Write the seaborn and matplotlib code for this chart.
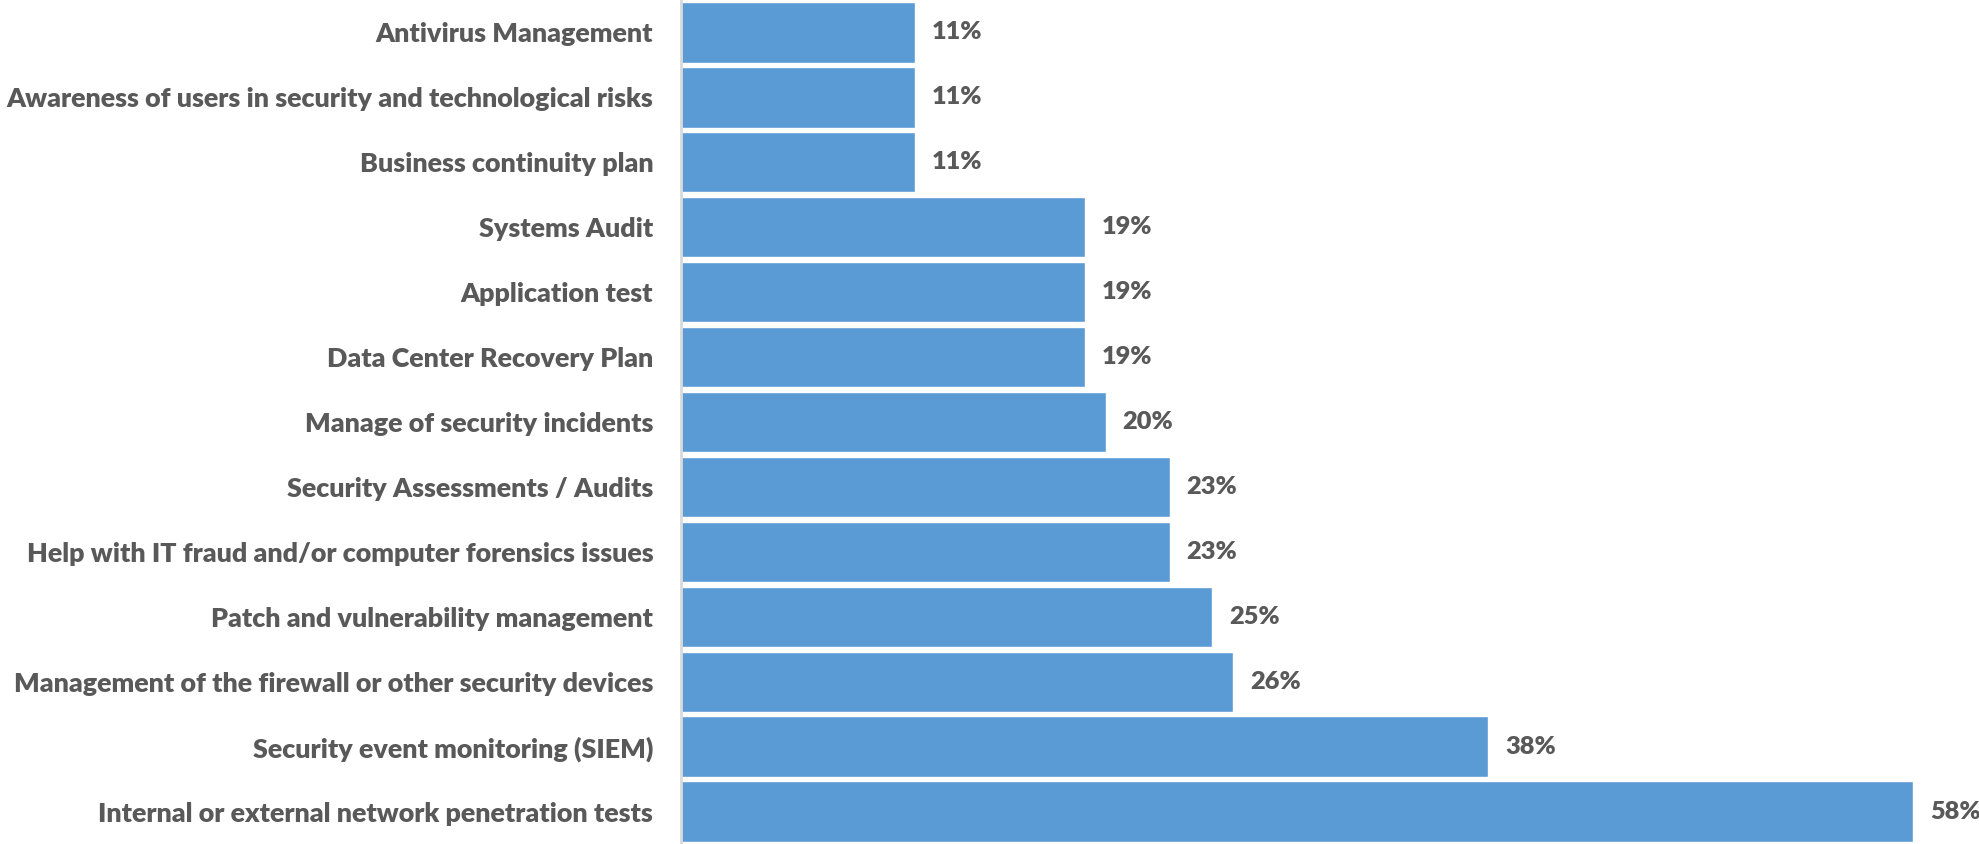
import matplotlib
matplotlib.use("Agg")
import matplotlib.pyplot as plt
import seaborn as sns
import pandas as pd

categories = [
    "Antivirus Management",
    "Awareness of users in security and technological risks",
    "Business continuity plan",
    "Systems Audit",
    "Application test",
    "Data Center Recovery Plan",
    "Manage of security incidents",
    "Security Assessments / Audits",
    "Help with IT fraud and/or computer forensics issues",
    "Patch and vulnerability management",
    "Management of the firewall or other security devices",
    "Security event monitoring (SIEM)",
    "Internal or external network penetration tests",
]
values = [11, 11, 11, 19, 19, 19, 20, 23, 23, 25, 26, 38, 58]

df = pd.DataFrame({"service": categories, "share": values})

sns.set_theme(style="white")
plt.rcParams["font.family"] = ["Lato", "DejaVu Sans"]

text_color = "#595959"
bar_color = "#5B9BD5"

fig = plt.figure(figsize=(19.79, 8.44), dpi=100)
ax = fig.add_axes([681 / 1979, 0.0, 1 - 681 / 1979, 1.0])

sns.barplot(data=df, x="share", y="service", orient="h", color=bar_color,
            width=0.93, saturation=1, ax=ax)

ax.set_xlim(0, 61.1)
ax.set_ylim(12.5, -0.5)
ax.set_xlabel("")
ax.set_ylabel("")
ax.set_xticks([])

for s in ["top", "right", "bottom"]:
    ax.spines[s].set_visible(False)
ax.spines["left"].set_color("#d9d9d9")
ax.spines["left"].set_linewidth(2)

ax.tick_params(axis="y", length=0, pad=20, labelsize=19.4, labelcolor=text_color)
for lbl in ax.get_yticklabels():
    lbl.set_fontweight("heavy")

for i, v in enumerate(values):
    ax.annotate(f"{v}%", xy=(v, i), xytext=(12, 0), textcoords="offset points",
                ha="left", va="center", fontsize=18.3, fontweight="heavy",
                color=text_color, annotation_clip=False)

fig.savefig("out.png", dpi=100)
